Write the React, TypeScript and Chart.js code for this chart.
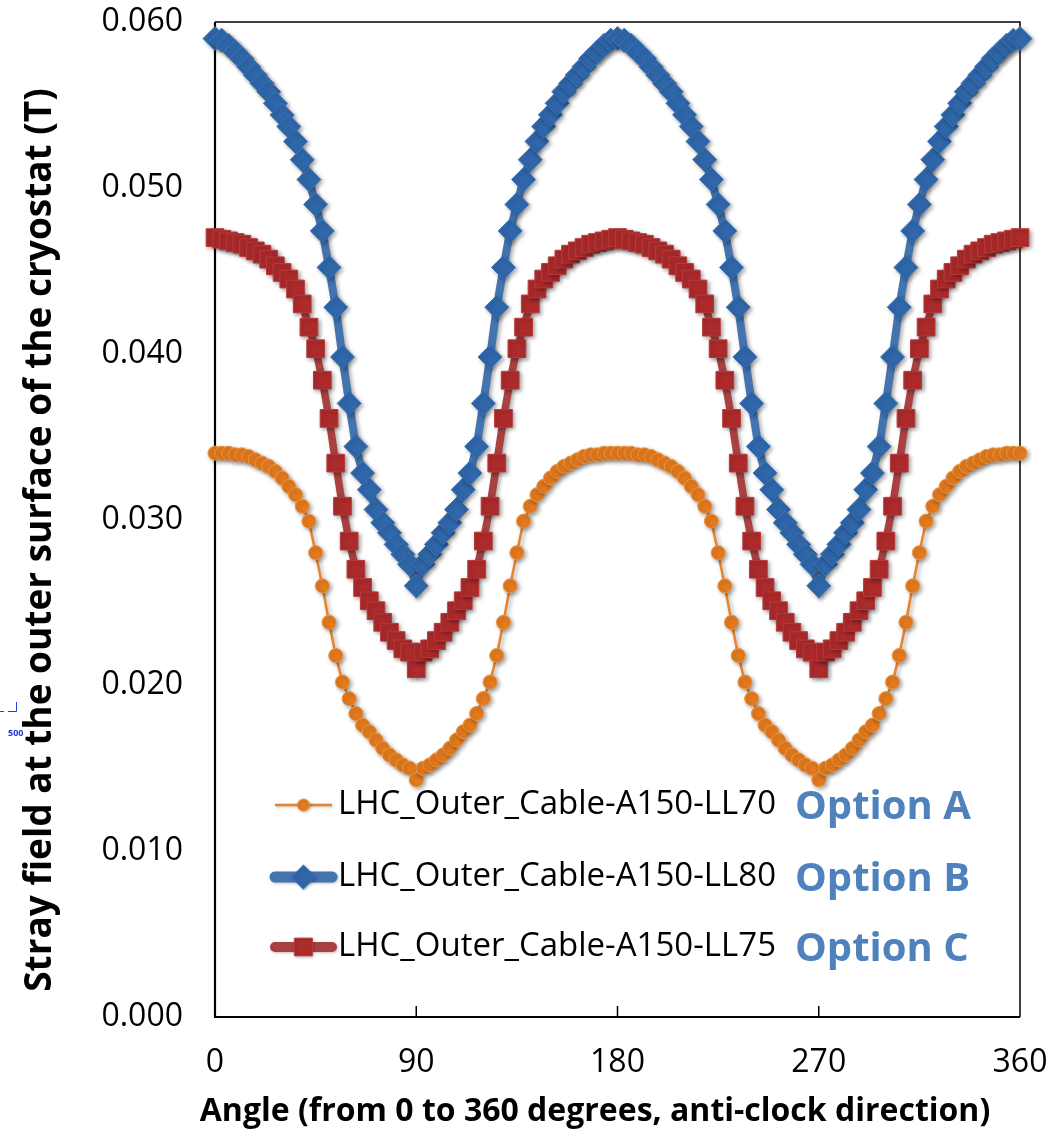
import React, { useEffect, useRef } from 'react';
import { Chart, registerables } from 'chart.js';

Chart.register(...registerables);

// Angle in degrees, one sample every 3 degrees
const angles = [
  0, 3, 6, 9, 12, 15, 18, 21, 24, 27, 30, 33, 36, 39, 42, 45, 48, 51, 54, 57, 60, 63, 66, 69, 72, 75, 78, 81, 84, 87, 90,
  93, 96, 99, 102, 105, 108, 111, 114, 117, 120, 123, 126, 129, 132, 135, 138, 141, 144, 147, 150, 153, 156, 159, 162, 165, 168, 171, 174, 177, 180,
  183, 186, 189, 192, 195, 198, 201, 204, 207, 210, 213, 216, 219, 222, 225, 228, 231, 234, 237, 240, 243, 246, 249, 252, 255, 258, 261, 264, 267, 270,
  273, 276, 279, 282, 285, 288, 291, 294, 297, 300, 303, 306, 309, 312, 315, 318, 321, 324, 327, 330, 333, 336, 339, 342, 345, 348, 351, 354, 357, 360,
];

// Stray field (T), LL70 cable
const ll70 = [
  0.0340, 0.0340, 0.0340, 0.0339, 0.0339, 0.0338, 0.0336, 0.0334, 0.0332, 0.0329, 0.0325, 0.0320, 0.0315, 0.0308, 0.0299, 0.0280, 0.0260, 0.0238, 0.0218, 0.0202, 0.0192, 0.0183, 0.0176, 0.0172, 0.0167, 0.0162, 0.0158, 0.0155, 0.0152, 0.0150, 0.0143,
  0.0150, 0.0152, 0.0155, 0.0158, 0.0162, 0.0167, 0.0172, 0.0176, 0.0183, 0.0192, 0.0202, 0.0218, 0.0238, 0.0260, 0.0280, 0.0299, 0.0308, 0.0315, 0.0320, 0.0325, 0.0329, 0.0332, 0.0334, 0.0336, 0.0338, 0.0339, 0.0339, 0.0340, 0.0340, 0.0340,
  0.0340, 0.0340, 0.0339, 0.0339, 0.0338, 0.0336, 0.0334, 0.0332, 0.0329, 0.0325, 0.0320, 0.0315, 0.0308, 0.0299, 0.0280, 0.0260, 0.0238, 0.0218, 0.0202, 0.0192, 0.0183, 0.0176, 0.0172, 0.0167, 0.0162, 0.0158, 0.0155, 0.0152, 0.0150, 0.0143,
  0.0150, 0.0152, 0.0155, 0.0158, 0.0162, 0.0167, 0.0172, 0.0176, 0.0183, 0.0192, 0.0202, 0.0218, 0.0238, 0.0260, 0.0280, 0.0299, 0.0308, 0.0315, 0.0320, 0.0325, 0.0329, 0.0332, 0.0334, 0.0336, 0.0338, 0.0339, 0.0339, 0.0340, 0.0340, 0.0340,
];

// Stray field (T), LL80 cable
const ll80 = [
  0.0590, 0.0589, 0.0586, 0.0582, 0.0578, 0.0573, 0.0568, 0.0563, 0.0558, 0.0551, 0.0544, 0.0537, 0.0528, 0.0517, 0.0505, 0.0490, 0.0474, 0.0452, 0.0428, 0.0398, 0.0370, 0.0344, 0.0328, 0.0318, 0.0306, 0.0298, 0.0292, 0.0285, 0.0279, 0.0273, 0.0260,
  0.0273, 0.0279, 0.0285, 0.0292, 0.0298, 0.0306, 0.0318, 0.0328, 0.0344, 0.0370, 0.0398, 0.0428, 0.0452, 0.0474, 0.0490, 0.0505, 0.0517, 0.0528, 0.0537, 0.0544, 0.0551, 0.0558, 0.0563, 0.0568, 0.0573, 0.0578, 0.0582, 0.0586, 0.0589, 0.0590,
  0.0589, 0.0586, 0.0582, 0.0578, 0.0573, 0.0568, 0.0563, 0.0558, 0.0551, 0.0544, 0.0537, 0.0528, 0.0517, 0.0505, 0.0490, 0.0474, 0.0452, 0.0428, 0.0398, 0.0370, 0.0344, 0.0328, 0.0318, 0.0306, 0.0298, 0.0292, 0.0285, 0.0279, 0.0273, 0.0260,
  0.0273, 0.0279, 0.0285, 0.0292, 0.0298, 0.0306, 0.0318, 0.0328, 0.0344, 0.0370, 0.0398, 0.0428, 0.0452, 0.0474, 0.0490, 0.0505, 0.0517, 0.0528, 0.0537, 0.0544, 0.0551, 0.0558, 0.0563, 0.0568, 0.0573, 0.0578, 0.0582, 0.0586, 0.0589, 0.0590,
];

// Stray field (T), LL75 cable
const ll75 = [
  0.0470, 0.0469, 0.0468, 0.0467, 0.0466, 0.0464, 0.0462, 0.0460, 0.0457, 0.0453, 0.0449, 0.0445, 0.0439, 0.0430, 0.0416, 0.0403, 0.0384, 0.0361, 0.0334, 0.0308, 0.0287, 0.0270, 0.0259, 0.0251, 0.0245, 0.0238, 0.0232, 0.0227, 0.0222, 0.0220, 0.0210,
  0.0220, 0.0222, 0.0227, 0.0232, 0.0238, 0.0245, 0.0251, 0.0259, 0.0270, 0.0287, 0.0308, 0.0334, 0.0361, 0.0384, 0.0403, 0.0416, 0.0430, 0.0439, 0.0445, 0.0449, 0.0453, 0.0457, 0.0460, 0.0462, 0.0464, 0.0466, 0.0467, 0.0468, 0.0469, 0.0470,
  0.0469, 0.0468, 0.0467, 0.0466, 0.0464, 0.0462, 0.0460, 0.0457, 0.0453, 0.0449, 0.0445, 0.0439, 0.0430, 0.0416, 0.0403, 0.0384, 0.0361, 0.0334, 0.0308, 0.0287, 0.0270, 0.0259, 0.0251, 0.0245, 0.0238, 0.0232, 0.0227, 0.0222, 0.0220, 0.0210,
  0.0220, 0.0222, 0.0227, 0.0232, 0.0238, 0.0245, 0.0251, 0.0259, 0.0270, 0.0287, 0.0308, 0.0334, 0.0361, 0.0384, 0.0403, 0.0416, 0.0430, 0.0439, 0.0445, 0.0449, 0.0453, 0.0457, 0.0460, 0.0462, 0.0464, 0.0466, 0.0467, 0.0468, 0.0469, 0.0470,
];

const xTicks = [0, 90, 180, 270, 360];
const yTicks = [0, 0.01, 0.02, 0.03, 0.04, 0.05, 0.06];

const seriesNames = ['LHC_Outer_Cable-A150-LL70', 'LHC_Outer_Cable-A150-LL80', 'LHC_Outer_Cable-A150-LL75'];
const optionLabels = ['Option A', 'Option B', 'Option C'];

const xTitle = 'Angle (from 0 to 360 degrees, anti-clock direction)';
const yTitle = 'Stray field at the outer surface of the cryostat (T)';

const FONT = '"Open Sans", "DejaVu Sans", sans-serif';

type Style = {
  line: string;
  fill: string;
  edge: string;
  lineWidth: number;
  shape: 'circle' | 'rectRot' | 'rect';
  radius: number;
  legendLineWidth: number;
};

const styles: Style[] = [
  { line: '#E8832C', fill: '#E47B1E', edge: '#EE9440', lineWidth: 2.5, shape: 'circle', radius: 7, legendLineWidth: 2.5 },
  { line: '#4474B0', fill: '#2F67AA', edge: '#3D75B8', lineWidth: 8, shape: 'rectRot', radius: 12, legendLineWidth: 11 },
  { line: '#A94141', fill: '#AE2B2C', edge: '#BA3A3A', lineWidth: 7.5, shape: 'rect', radius: 12.5, legendLineWidth: 10 },
];

const toPoints = (vals: number[]) => angles.map((a, i) => ({ x: a, y: vals[i] }));

function drawMarker(ctx: CanvasRenderingContext2D, s: Style, x: number, y: number) {
  ctx.beginPath();
  if (s.shape === 'circle') {
    ctx.arc(x, y, s.radius, 0, Math.PI * 2);
  } else if (s.shape === 'rectRot') {
    ctx.moveTo(x - s.radius, y);
    ctx.lineTo(x, y - s.radius);
    ctx.lineTo(x + s.radius, y);
    ctx.lineTo(x, y + s.radius);
    ctx.closePath();
  } else {
    const h = Math.SQRT1_2 * s.radius;
    ctx.rect(x - h, y - h, 2 * h, 2 * h);
  }
  ctx.fillStyle = s.fill;
  ctx.fill();
  ctx.lineWidth = 1;
  ctx.strokeStyle = s.edge;
  ctx.stroke();
}

// Plot frame, inward tick marks on the angle axis, and the two axis titles
const framePlugin = {
  id: 'frame',
  beforeDatasetsDraw(chart: any) {
    const { ctx, chartArea: a, scales } = chart;
    ctx.save();
    ctx.strokeStyle = '#000';
    ctx.lineWidth = 1.5;
    ctx.beginPath();
    ctx.moveTo(a.left, a.top);
    ctx.lineTo(a.right, a.top);
    ctx.lineTo(a.right, a.bottom);
    ctx.stroke();
    ctx.lineWidth = 2.2;
    ctx.beginPath();
    ctx.moveTo(a.left, a.top);
    ctx.lineTo(a.left, a.bottom);
    ctx.lineTo(a.right, a.bottom);
    ctx.stroke();
    ctx.lineWidth = 1.5;
    ctx.beginPath();
    xTicks.slice(1, -1).forEach((t) => {
      const px = scales.x.getPixelForValue(t);
      ctx.moveTo(px, a.bottom);
      ctx.lineTo(px, a.bottom - 11);
    });
    ctx.stroke();

    ctx.fillStyle = '#000';
    ctx.textAlign = 'center';
    ctx.textBaseline = 'middle';
    ctx.font = `bold 32px ${FONT}`;
    ctx.fillText(xTitle, a.left + 380, a.bottom + 95);

    ctx.translate(40, a.top + 518);
    ctx.rotate(-Math.PI / 2);
    ctx.font = `bold 37px ${FONT}`;
    ctx.fillText(yTitle, 0, 0);
    ctx.restore();
  },
};

// Soft drop shadow under every series
const shadowPlugin = {
  id: 'shadow',
  beforeDatasetDraw(chart: any) {
    const ctx = chart.ctx;
    ctx.save();
    ctx.shadowColor = 'rgba(0,0,0,0.35)';
    ctx.shadowBlur = 4;
    ctx.shadowOffsetX = 2;
    ctx.shadowOffsetY = 2;
  },
  afterDatasetDraw(chart: any) {
    chart.ctx.restore();
  },
};

// Legend inside the plot area with option labels beside each entry
const legendPlugin = {
  id: 'innerLegend',
  afterDraw(chart: any) {
    const { ctx, chartArea: a } = chart;
    const rows = [a.top + 783, a.top + 855, a.top + 925];
    ctx.save();
    rows.forEach((cy, i) => {
      const s = styles[i];
      const x0 = a.left + 60;
      const x1 = a.left + 117;
      ctx.save();
      ctx.shadowColor = 'rgba(0,0,0,0.25)';
      ctx.shadowBlur = 3;
      ctx.shadowOffsetX = 1;
      ctx.shadowOffsetY = 1;
      ctx.strokeStyle = s.line;
      ctx.lineWidth = s.legendLineWidth;
      ctx.lineCap = i === 0 ? 'butt' : 'round';
      ctx.beginPath();
      ctx.moveTo(x0, cy);
      ctx.lineTo(x1, cy);
      ctx.stroke();
      drawMarker(ctx, { ...s, radius: i === 0 ? 6 : s.radius }, (x0 + x1) / 2, cy);
      ctx.restore();

      ctx.fillStyle = '#000';
      ctx.font = `33px ${FONT}`;
      ctx.textBaseline = 'middle';
      ctx.textAlign = 'left';
      ctx.fillText(seriesNames[i], a.left + 123, cy);

      ctx.fillStyle = '#4F81BD';
      ctx.font = `bold 40px ${FONT}`;
      ctx.fillText(optionLabels[i], a.left + 580, cy + 3);
    });

    // small stray marker near the left edge
    ctx.strokeStyle = '#2B3FD6';
    ctx.lineWidth = 1;
    ctx.beginPath();
    ctx.moveTo(0, 711.5);
    ctx.lineTo(4, 711.5);
    ctx.moveTo(8, 711.5);
    ctx.lineTo(16.5, 711.5);
    ctx.lineTo(16.5, 702);
    ctx.stroke();
    ctx.fillStyle = '#2233D8';
    ctx.font = `bold 9px ${FONT}`;
    ctx.textBaseline = 'middle';
    ctx.fillText('500', 8, 733);
    ctx.restore();
  },
};

export default function App() {
  const ref = useRef<HTMLCanvasElement | null>(null);

  useEffect(() => {
    document.body.style.margin = '0';
    const canvas = ref.current;
    if (!canvas) return;

    const datasets = [ll70, ll80, ll75].map((vals, i) => {
      const s = styles[i];
      return {
        label: seriesNames[i],
        data: toPoints(vals),
        borderColor: s.line,
        borderWidth: s.lineWidth,
        backgroundColor: s.fill,
        pointStyle: s.shape,
        pointRadius: s.radius,
        pointBackgroundColor: s.fill,
        pointBorderColor: s.edge,
        pointBorderWidth: 1,
        tension: 0,
        clip: false as any,
        order: i === 0 ? 0 : i === 1 ? 2 : 1,
      };
    });

    const chart = new Chart(canvas, {
      type: 'line',
      data: { datasets },
      plugins: [framePlugin, shadowPlugin, legendPlugin],
      options: {
        responsive: false,
        animation: false,
        events: [],
        layout: { autoPadding: false, padding: { top: 22, right: 36, left: 0, bottom: 0 } },
        plugins: { legend: { display: false }, tooltip: { enabled: false } },
        scales: {
          x: {
            type: 'linear',
            min: 0,
            max: 360,
            afterBuildTicks: (sc: any) => {
              sc.ticks = xTicks.map((v) => ({ value: v }));
            },
            afterFit: (sc: any) => {
              sc.height = 118;
              sc.paddingLeft = 0;
              sc.paddingRight = 0;
            },
            grid: { display: false, drawTicks: false },
            border: { display: false },
            ticks: {
              padding: 27,
              color: '#000',
              font: { family: FONT, size: 32 },
              maxRotation: 0,
              callback: (v: any) => String(v),
            },
            title: { display: false },
          },
          y: {
            type: 'linear',
            min: 0,
            max: 0.06,
            afterBuildTicks: (sc: any) => {
              sc.ticks = yTicks.map((v) => ({ value: v }));
            },
            afterFit: (sc: any) => {
              sc.width = 215;
              sc.paddingTop = 0;
              sc.paddingBottom = 0;
            },
            grid: { display: false, drawTicks: false },
            border: { display: false },
            ticks: {
              padding: 32,
              color: '#000',
              font: { family: FONT, size: 32 },
              callback: (v: any) => Number(v).toFixed(3),
            },
            title: { display: false },
          },
        },
      } as any,
    });

    return () => chart.destroy();
  }, []);

  return (
    <div style={{ width: 1056, height: 1135, background: '#fff' }}>
      <canvas ref={ref} width={1056} height={1135} style={{ display: 'block', width: 1056, height: 1135 }} />
    </div>
  );
}
